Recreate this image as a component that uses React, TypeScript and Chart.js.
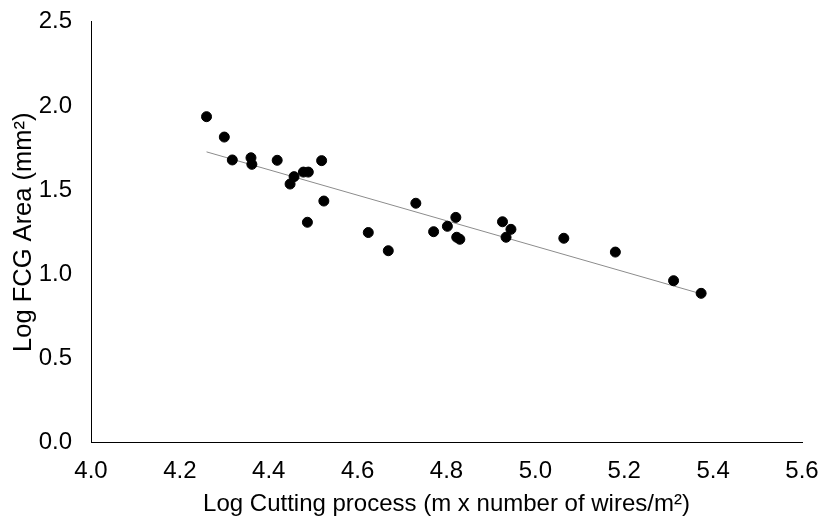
import React, { useEffect, useRef } from "react";
import { Chart, registerables } from "chart.js";

Chart.register(...registerables);

const xValues = [
  4.26, 4.3, 4.318, 4.36, 4.362, 4.419, 4.519, 4.457, 4.448, 4.478, 4.489, 4.524,
  4.487, 4.624, 4.669, 4.731, 4.771, 4.802, 4.821, 4.823, 4.83, 4.926, 4.945, 4.934,
  5.064, 5.18, 5.311, 5.373,
];
const yValues = [
  1.936, 1.815, 1.679, 1.692, 1.653, 1.677, 1.675, 1.58, 1.536, 1.607, 1.607, 1.435,
  1.309, 1.248, 1.14, 1.422, 1.253, 1.285, 1.338, 1.22, 1.208, 1.312, 1.267, 1.22,
  1.214, 1.132, 0.962, 0.887,
];
const xTicks = [4.0, 4.2, 4.4, 4.6, 4.8, 5.0, 5.2, 5.4, 5.6];
const yTicks = [0.0, 0.5, 1.0, 1.5, 2.0, 2.5];
const xTitle = "Log Cutting process (m x number of wires/m²)";
const yTitle = "Log FCG Area (mm²)";

const FONT = "'Liberation Sans', Arial, sans-serif";

function linearFit(xs: number[], ys: number[]) {
  const n = xs.length;
  const mx = xs.reduce((a, b) => a + b, 0) / n;
  const my = ys.reduce((a, b) => a + b, 0) / n;
  let sxy = 0;
  let sxx = 0;
  for (let i = 0; i < n; i++) {
    sxy += (xs[i] - mx) * (ys[i] - my);
    sxx += (xs[i] - mx) * (xs[i] - mx);
  }
  const slope = sxy / sxx;
  return { slope, intercept: my - slope * mx };
}

export default function App() {
  const ref = useRef<HTMLCanvasElement | null>(null);
  useEffect(() => {
    if (!ref.current) return;
    const points = xValues.map((x, i) => ({ x, y: yValues[i] }));
    const { slope, intercept } = linearFit(xValues, yValues);
    const minX = Math.min(...xValues);
    const maxX = Math.max(...xValues);
    const trend = [
      { x: minX, y: intercept + slope * minX },
      { x: maxX, y: intercept + slope * maxX },
    ];
    const chart = new Chart(ref.current, {
      type: "scatter",
      data: {
        datasets: [
          {
            type: "line",
            data: trend,
            borderColor: "#8c8c8c",
            borderWidth: 1,
            pointRadius: 0,
            fill: false,
            order: 2,
          } as any,
          {
            data: points,
            backgroundColor: "#000000",
            borderColor: "#000000",
            pointRadius: 5,
            pointHoverRadius: 5,
            order: 1,
          },
        ],
      },
      options: {
        animation: false,
        responsive: false,
        maintainAspectRatio: false,
        layout: { padding: { top: 21.7, right: 20, bottom: 0, left: 0 } },
        plugins: { legend: { display: false }, tooltip: { enabled: false } },
        scales: {
          x: {
            type: "linear",
            min: 4.0,
            max: 5.6,
            afterBuildTicks: (s: any) => {
              s.ticks = xTicks.map((v) => ({ value: v }));
            },
            afterFit: (s: any) => {
              s.height = 77.3;
              s.paddingLeft = 0;
              s.paddingRight = 0;
            },
            grid: { display: false, drawTicks: false },
            border: { display: true, color: "#000000", width: 1 },
            ticks: {
              padding: 14,
              color: "#000000",
              font: { family: FONT, size: 24 },
              maxRotation: 0,
              autoSkip: false,
              callback: (v: any) => Number(v).toFixed(1),
            },
            title: {
              display: true,
              text: xTitle,
              color: "#000000",
              font: { family: FONT, size: 24 },
              padding: { top: 0, bottom: 1 },
            },
          },
          y: {
            type: "linear",
            min: 0,
            max: 2.5,
            afterBuildTicks: (s: any) => {
              s.ticks = yTicks.map((v) => ({ value: v }));
            },
            afterFit: (s: any) => {
              s.width = 91;
              s.paddingTop = 0;
              s.paddingBottom = 0;
            },
            grid: { display: false, drawTicks: false },
            border: { display: true, color: "#000000", width: 1 },
            ticks: {
              padding: 19,
              color: "#000000",
              font: { family: FONT, size: 24 },
              autoSkip: false,
              callback: (v: any) => Number(v).toFixed(1),
            },
            title: {
              display: true,
              text: yTitle,
              color: "#000000",
              font: { family: FONT, size: 25.5 },
              padding: { top: 9, bottom: 0 },
            },
          },
        },
      },
    });
    return () => chart.destroy();
  }, []);
  return (
    <div style={{ position: "fixed", left: 0, top: 0, width: 822, height: 520, background: "#fff" }}>
      <canvas ref={ref} width={822} height={520} style={{ width: 822, height: 520 }} />
    </div>
  );
}
